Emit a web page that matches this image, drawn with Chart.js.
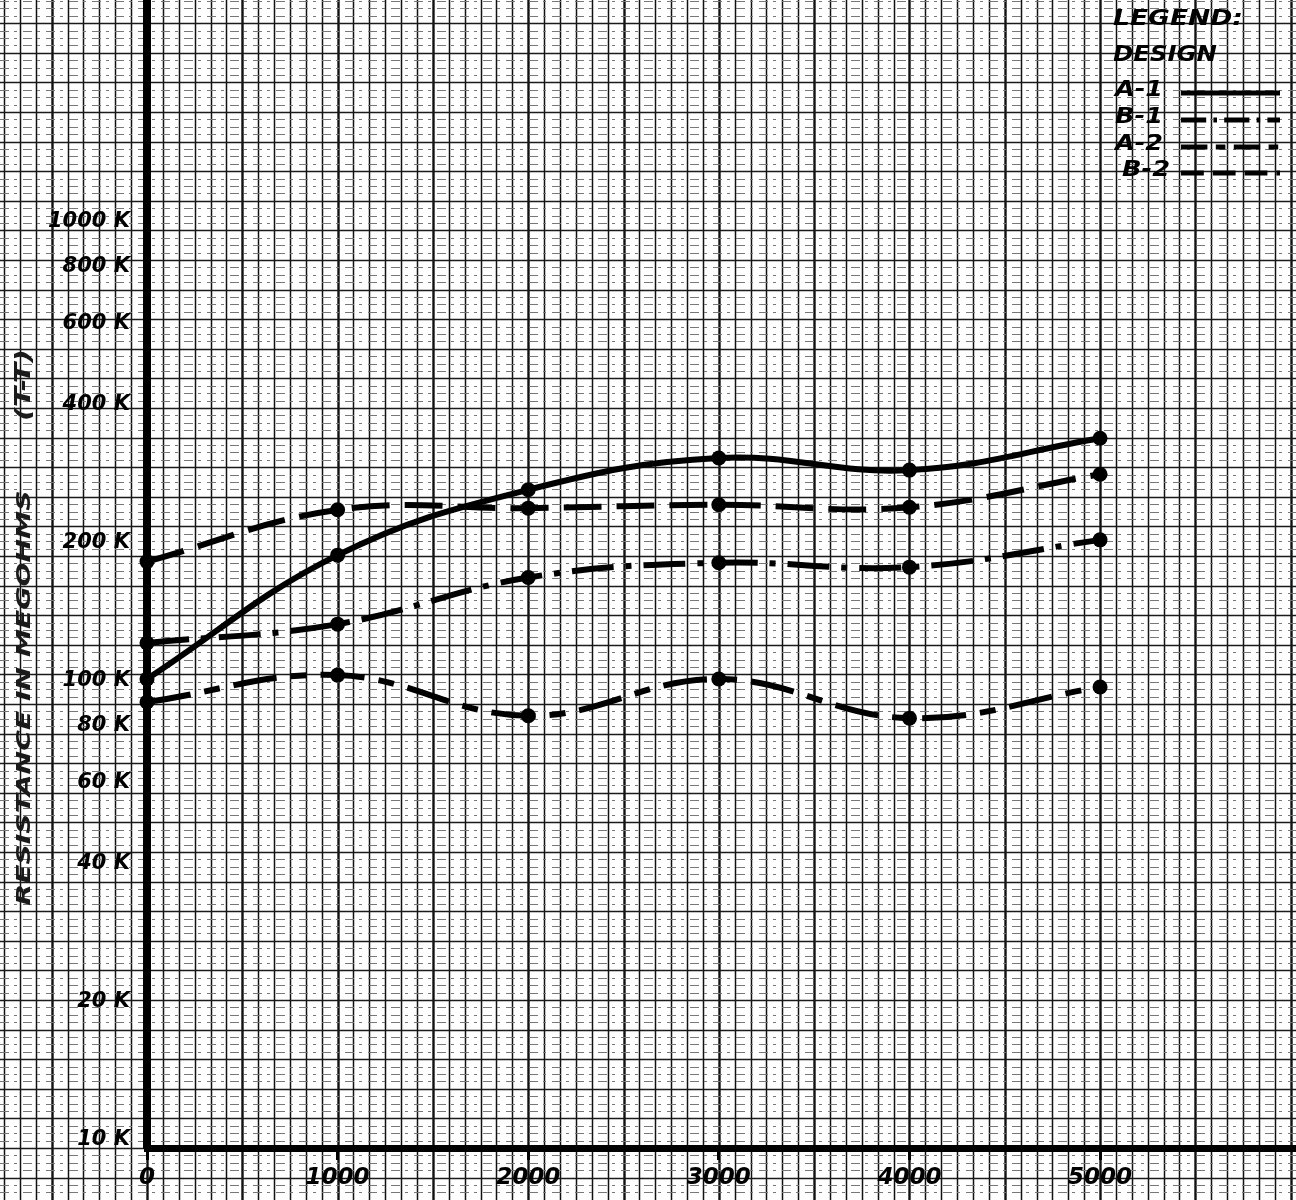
<!DOCTYPE html>
<html>
<head>
<meta charset="utf-8">
<script src="https://cdn.jsdelivr.net/npm/chart.js@4.4.1/dist/chart.umd.min.js"></script>
<style>
  html, body { margin: 0; padding: 0; background: #fff; }
  #wrap { width: 1296px; height: 1200px; position: relative; }
</style>
</head>
<body>
<div id="wrap"><canvas id="chart"></canvas></div>
<script>
// ---- data (resistance in K megohms) ----
const hours = [0, 1000, 2000, 3000, 4000, 5000];
const xTicks = [0, 1000, 2000, 3000, 4000, 5000];
const yTicks = [10, 20, 40, 60, 80, 100, 200, 400, 600, 800, 1000];
const yTickLabels = ['10 K', '20 K', '40 K', '60 K', '80 K', '100 K', '200 K', '400 K', '600 K', '800 K', '1000 K'];

const designA1 = [101, 188, 261, 306, 288, 338];
const designB1 = [121, 133, 168, 181, 177, 203];
const designA2 = [90, 103, 84, 101, 83, 97];
const designB2 = [182, 236, 238, 242, 239, 282];

const seriesNames = ['A-1', 'B-1', 'A-2', 'B-2'];
const seriesDash = [[], [42, 12, 6, 12], [44, 14, 16, 14], [38, 15]];

const INK = '#000';
const FONT = '"DejaVu Sans", "Liberation Sans", sans-serif';

// graph paper behind everything
const graphPaper = {
  id: 'graphPaper',
  beforeDraw(chart) {
    const { ctx, width, height, scales: { x, y } } = chart;
    ctx.save();
    ctx.fillStyle = '#fff';
    ctx.fillRect(0, 0, width, height);

    // vertical rulings, 12 to each 1000 hours, heavier every 500
    const x0 = x.getPixelForValue(0);
    const px = x.getPixelForValue(1000 / 12) - x0;
    for (let i = -Math.ceil(x0 / px); x0 + i * px <= width + 1; i++) {
      const xx = Math.round(x0 + i * px) + 0.5;
      ctx.strokeStyle = '#111';
      ctx.lineWidth = i % 6 === 0 ? 2.4 : 1.5;
      ctx.beginPath(); ctx.moveTo(xx, 0); ctx.lineTo(xx, height); ctx.stroke();
    }

    // horizontal rulings, solid every 4th, broken ones between
    const yb = y.bottom;
    const hp = 7.4;
    for (let j = -8; yb - j * hp >= -2; j++) {
      const yy = Math.round(yb - j * hp) + 0.5;
      if (j % 4 === 0) {
        ctx.setLineDash([]);
        ctx.strokeStyle = '#1a1a1a';
        ctx.lineWidth = 1.6;
      } else {
        ctx.setLineDash([9, 5, 3, 6]);
        ctx.strokeStyle = '#777';
        ctx.lineWidth = 1;
      }
      ctx.beginPath(); ctx.moveTo(0, yy); ctx.lineTo(width, yy); ctx.stroke();
    }
    ctx.restore();
  }
};

// axis title + hand-lettered legend
const lettering = {
  id: 'lettering',
  afterDraw(chart) {
    const { ctx } = chart;
    ctx.save();
    ctx.fillStyle = INK;
    ctx.textBaseline = 'middle';

    // rotated y title, stretched to the sheet's lettering width
    const stretchText = (txt, cx, cy, len, size) => {
      ctx.save();
      ctx.font = `italic bold ${size}px ${FONT}`;
      const w = ctx.measureText(txt).width;
      ctx.translate(cx, cy);
      ctx.rotate(-Math.PI / 2);
      ctx.scale(len / w, 1);
      ctx.textAlign = 'center';
      ctx.fillStyle = '#1a1a1a';
      ctx.fillText(txt, 0, 0);
      ctx.restore();
    };
    stretchText('RESISTANCE IN MEGOHMS', 25, 698, 415, 20);
    stretchText('(T-T)', 24, 385, 72, 22);

    // legend block
    ctx.textAlign = 'left';
    ctx.font = `italic bold 22px ${FONT}`;
    const head = (txt, x, y, len) => {
      const w = ctx.measureText(txt).width;
      ctx.save(); ctx.translate(x, y); ctx.scale(len / w, 1);
      ctx.fillText(txt, 0, 0); ctx.restore();
    };
    head('LEGEND:', 1113, 19, 130);
    head('DESIGN', 1113, 55, 104);

    const rowY = [91, 118, 145, 171];
    const rowX = [1115, 1115, 1115, 1122];
    seriesNames.forEach((name, i) => {
      ctx.font = `italic bold 21px ${FONT}`;
      head(name, rowX[i], rowY[i], 48);
      ctx.save();
      ctx.strokeStyle = INK;
      ctx.lineWidth = 5;
      ctx.setLineDash(seriesDash[i].map(d => d * 0.6));
      ctx.beginPath();
      ctx.moveTo(1181, rowY[i] + 2);
      ctx.lineTo(1280, rowY[i] + 2);
      ctx.stroke();
      ctx.restore();
    });
    ctx.restore();
  }
};

const allSeries = [designA1, designB1, designA2, designB2];

const datasets = allSeries.map((vals, i) => ({
  label: seriesNames[i],
  data: hours.map((h, k) => ({ x: h, y: vals[k] })),
  borderColor: INK,
  backgroundColor: INK,
  borderWidth: 6,
  borderDash: seriesDash[i],
  pointRadius: 7.5,
  pointBackgroundColor: INK,
  pointBorderWidth: 0,
  tension: 0.4,
  clip: false
}));

new Chart(document.getElementById('chart'), {
  type: 'line',
  data: { datasets },
  plugins: [graphPaper, lettering],
  options: {
    responsive: true,
    maintainAspectRatio: false,
    animation: false,
    layout: { padding: 0, autoPadding: false },
    plugins: {
      legend: { display: false },
      tooltip: { enabled: false }
    },
    scales: {
      x: {
        type: 'linear',
        min: 0,
        max: 6028,
        afterBuildTicks: s => { s.ticks = xTicks.map(v => ({ value: v })); },
        afterFit: s => { s.height = 52; s.paddingLeft = 0; s.paddingRight = 0; },
        border: { display: true, color: INK, width: 7 },
        grid: { display: true, drawOnChartArea: false, drawTicks: true, tickLength: 12, tickWidth: 3, color: INK },
        ticks: {
          color: INK,
          padding: 4,
          maxRotation: 0,
          font: { family: FONT, size: 23, style: 'italic', weight: 'bold' },
          callback: v => String(v)
        }
      },
      y: {
        type: 'logarithmic',
        min: 9.607,
        max: 3045,
        afterBuildTicks: s => { s.ticks = yTicks.map(v => ({ value: v })); },
        afterFit: s => { s.width = 147; s.paddingTop = 0; s.paddingBottom = 0; },
        border: { display: true, color: INK, width: 8 },
        grid: { display: false, drawTicks: false },
        ticks: {
          color: INK,
          padding: 17,
          font: { family: FONT, size: 21, style: 'italic', weight: 'bold' },
          callback: v => {
            const k = yTicks.indexOf(v);
            return k >= 0 ? yTickLabels[k] : '';
          }
        }
      }
    }
  }
});
</script>
</body>
</html>
